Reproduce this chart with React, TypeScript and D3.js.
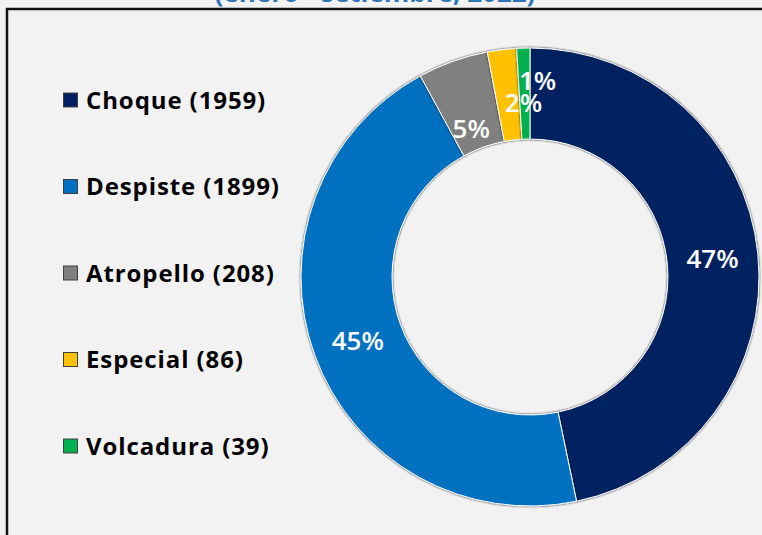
import * as d3 from 'd3';
import React, { useRef, useEffect } from 'react';

const categories = ['Choque', 'Despiste', 'Atropello', 'Especial', 'Volcadura'];
const counts = [1959, 1899, 208, 86, 39];
const colors = ['#002060', '#0070c0', '#808080', '#ffc000', '#00b050'];
const title = '(enero - setiembre, 2022)';

// small nudges Excel applied to the crowded labels (px from centroid)
const labelNudge = [[0, 0], [0, 0], [3, 24], [16, 8], [13, -13]];

const W = 762;
const H = 535;

const App = () => {
  const ref = useRef(null);

  useEffect(() => {
    const svg = d3.select(ref.current);
    svg.selectAll('*').remove();

    const defs = svg.append('defs');
    const f = defs.append('filter').attr('id', 'sh')
      .attr('x', '-10%').attr('y', '-10%').attr('width', '120%').attr('height', '120%');
    f.append('feDropShadow')
      .attr('dx', 0).attr('dy', 0)
      .attr('stdDeviation', 0.9)
      .attr('flood-color', '#000')
      .attr('flood-opacity', 0.9);

    svg.append('rect').attr('width', W).attr('height', H).attr('fill', '#f2f2f2');

    svg.append('text')
      .attr('x', 375).attr('y', 2)
      .attr('text-anchor', 'middle')
      .style('font-family', '"Open Sans", sans-serif')
      .style('font-weight', 700)
      .style('font-size', '26px')
      .attr('fill', '#2e75b6')
      .text(title);

    svg.append('rect')
      .attr('x', 7).attr('y', 9)
      .attr('width', 800).attr('height', 600)
      .attr('fill', '#f2f2f2')
      .attr('stroke', '#111')
      .attr('stroke-width', 2.5);

    const total = d3.sum(counts);
    const data = categories.map((c, i) => ({ name: c, value: counts[i], color: colors[i], i }));

    const pie = d3.pie().value(d => d.value).sort(null);
    const arc = d3.arc().innerRadius(138).outerRadius(229);

    const g = svg.append('g').attr('transform', 'translate(530,277)');

    g.selectAll('path.slice')
      .data(pie(data))
      .enter().append('path')
      .attr('class', 'slice')
      .attr('d', arc)
      .attr('fill', d => d.data.color)
      .attr('stroke', '#fff')
      .attr('stroke-width', 1)
      .attr('filter', 'url(#sh)');

    g.selectAll('text.lbl')
      .data(pie(data))
      .enter().append('text')
      .attr('class', 'lbl')
      .attr('x', d => arc.centroid(d)[0] + labelNudge[d.data.i][0])
      .attr('y', d => arc.centroid(d)[1] + labelNudge[d.data.i][1])
      .attr('dy', '0.36em')
      .attr('text-anchor', 'middle')
      .style('font-family', '"Open Sans", sans-serif')
      .style('font-weight', 600)
      .style('font-size', '26px')
      .attr('fill', '#fff')
      .text(d => `${Math.round(d.data.value / total * 100)}%`);

    const legend = svg.append('g');
    const y = d3.scalePoint().domain(categories).range([100, 446]);

    const item = legend.selectAll('g')
      .data(data)
      .enter().append('g')
      .attr('transform', d => `translate(0,${y(d.name)})`);

    item.append('rect')
      .attr('x', 63.5).attr('y', -7)
      .attr('width', 14).attr('height', 14)
      .attr('fill', d => d.color)
      .attr('stroke', '#404040')
      .attr('stroke-width', 1);

    item.append('text')
      .attr('x', 86).attr('dy', '0.36em')
      .style('font-family', '"Open Sans", sans-serif')
      .style('font-weight', 700)
      .style('font-size', '24px')
      .style('letter-spacing', '0.9px')
      .attr('fill', '#000')
      .text(d => `${d.name} (${d.value})`);
  }, []);

  return <svg ref={ref} width={W} height={H} style={{ position: 'absolute', left: 0, top: 0 }}></svg>;
};

export default App;
